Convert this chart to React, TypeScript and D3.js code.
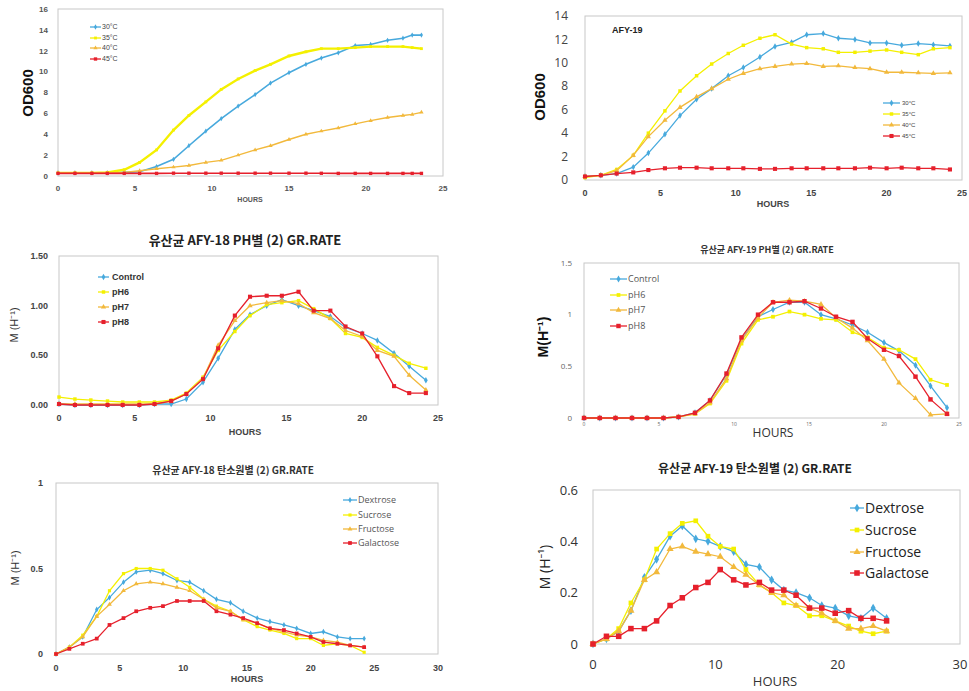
import * as d3 from "d3";

// ---- data ----
const hoursA = [0, 1.1, 2.2, 3.2, 4.3, 5.3, 6.4, 7.5, 8.5, 9.6, 10.6, 11.7, 12.8, 13.8, 15, 16.1, 17.1, 18.2, 19.3, 20.3, 21.4, 22.4, 23, 23.6];
const hoursB = [0, 1.05, 2.1, 3.2, 4.2, 5.3, 6.3, 7.4, 8.4, 9.5, 10.5, 11.6, 12.6, 13.7, 14.7, 15.8, 16.8, 17.9, 18.9, 20, 21, 22.1, 23.1, 24.2];
const hoursC = [0, 1.1, 2.1, 3.1, 4.2, 5.2, 6.3, 7.3, 8.4, 9.4, 10.4, 11.5, 12.5, 13.6, 14.6, 15.6, 16.6, 17.7, 18.7, 19.8, 20.9, 21.9, 22.9, 24];

const tempLabels = ["30°C", "35°C", "40°C", "45°C"];
const phLabels = ["Control", "pH6", "pH7", "pH8"];
const sugarLabels = ["Dextrose", "Sucrose", "Fructose", "Galactose"];

// AFY-18 OD600 by temperature
const od18_30 = [0.3, 0.3, 0.3, 0.3, 0.35, 0.4, 0.9, 1.6, 2.9, 4.3, 5.5, 6.7, 7.8, 8.9, 9.9, 10.7, 11.3, 11.8, 12.5, 12.6, 13.0, 13.2, 13.5, 13.5];
const od18_35 = [0.3, 0.3, 0.3, 0.35, 0.6, 1.3, 2.5, 4.4, 5.8, 7.1, 8.3, 9.3, 10.1, 10.7, 11.5, 11.9, 12.2, 12.2, 12.3, 12.4, 12.4, 12.4, 12.3, 12.2];
const od18_40 = [0.3, 0.3, 0.3, 0.3, 0.35, 0.5, 0.7, 0.85, 1.0, 1.3, 1.5, 2.0, 2.5, 2.9, 3.5, 4.0, 4.3, 4.6, 5.0, 5.3, 5.6, 5.8, 5.9, 6.1];
const od18_45 = [0.25, 0.25, 0.25, 0.25, 0.25, 0.25, 0.25, 0.27, 0.27, 0.27, 0.27, 0.27, 0.27, 0.27, 0.27, 0.27, 0.26, 0.25, 0.25, 0.25, 0.25, 0.25, 0.25, 0.25];

// AFY-19 OD600 by temperature
const od19_30 = [0.3, 0.4, 0.55, 1.1, 2.3, 3.9, 5.5, 6.9, 7.8, 8.9, 9.6, 10.5, 11.4, 11.75, 12.4, 12.5, 12.1, 12.0, 11.7, 11.7, 11.5, 11.65, 11.55, 11.45];
const od19_35 = [0.2, 0.4, 0.9, 2.1, 4.0, 5.9, 7.6, 8.9, 9.9, 10.8, 11.5, 12.1, 12.4, 11.6, 11.3, 11.2, 10.9, 10.9, 11.0, 11.1, 10.9, 10.7, 11.2, 11.3];
const od19_40 = [0.3, 0.4, 0.8, 2.1, 3.7, 5.1, 6.2, 7.1, 7.8, 8.6, 9.1, 9.5, 9.7, 9.9, 9.95, 9.7, 9.75, 9.6, 9.5, 9.2, 9.2, 9.15, 9.1, 9.15];
const od19_45 = [0.3, 0.4, 0.55, 0.65, 0.85, 1.0, 1.05, 1.05, 1.0, 1.0, 1.0, 0.95, 0.95, 1.0, 1.0, 1.0, 1.0, 1.0, 1.05, 1.0, 1.05, 1.0, 1.0, 0.9];

// AFY-18 growth rate by pH
const ph18_ctl = [0.01, 0, 0, 0, 0, 0, 0.01, 0.01, 0.06, 0.23, 0.47, 0.76, 0.91, 1.0, 1.06, 1.0, 0.95, 0.89, 0.78, 0.72, 0.65, 0.52, 0.39, 0.25];
const ph18_6 = [0.08, 0.06, 0.05, 0.04, 0.03, 0.03, 0.03, 0.05, 0.12, 0.28, 0.55, 0.74, 0.9, 1.01, 1.03, 1.05, 0.97, 0.87, 0.72, 0.68, 0.58, 0.5, 0.42, 0.37];
const ph18_7 = [0.01, 0.01, 0.01, 0.01, 0.01, 0.01, 0.01, 0.04, 0.11, 0.27, 0.6, 0.85, 1.0, 1.03, 1.05, 1.02, 0.93, 0.87, 0.75, 0.69, 0.55, 0.49, 0.3, 0.15];
const ph18_8 = [0.01, 0, 0, 0, 0, 0, 0.01, 0.04, 0.11, 0.26, 0.57, 0.9, 1.09, 1.1, 1.1, 1.14, 0.95, 0.95, 0.79, 0.72, 0.49, 0.19, 0.12, 0.12];

// AFY-19 growth rate by pH
const ph19_ctl = [0, 0, 0, 0, 0, 0, 0.01, 0.05, 0.17, 0.42, 0.76, 0.98, 1.05, 1.12, 1.12, 1.0, 0.96, 0.9, 0.83, 0.73, 0.65, 0.51, 0.31, 0.1];
const ph19_6 = [0, 0, 0, 0, 0, 0, 0.01, 0.04, 0.14, 0.36, 0.72, 0.95, 0.98, 1.03, 1.0, 0.96, 0.95, 0.83, 0.78, 0.68, 0.66, 0.57, 0.37, 0.32];
const ph19_7 = [0, 0, 0, 0, 0, 0, 0.01, 0.04, 0.15, 0.38, 0.75, 0.97, 1.12, 1.14, 1.13, 1.1, 0.97, 0.87, 0.75, 0.57, 0.34, 0.19, 0.03, 0.04];
const ph19_8 = [0, 0, 0, 0, 0, 0, 0.01, 0.05, 0.17, 0.43, 0.78, 1.0, 1.12, 1.12, 1.13, 1.06, 0.98, 0.93, 0.77, 0.66, 0.6, 0.4, 0.18, 0.04];

// AFY-18 growth rate by carbon source
const c18_dex = [0, 0.04, 0.1, 0.26, 0.33, 0.42, 0.48, 0.49, 0.47, 0.43, 0.42, 0.37, 0.32, 0.3, 0.25, 0.21, 0.19, 0.17, 0.15, 0.12, 0.13, 0.1, 0.09, 0.09];
const c18_suc = [0, 0.04, 0.11, 0.22, 0.37, 0.47, 0.5, 0.5, 0.49, 0.44, 0.39, 0.32, 0.28, 0.25, 0.2, 0.16, 0.14, 0.12, 0.09, 0.09, 0.05, 0.06, 0.05, 0.01];
const c18_fru = [0, 0.04, 0.1, 0.22, 0.29, 0.37, 0.41, 0.42, 0.41, 0.39, 0.37, 0.32, 0.27, 0.25, 0.2, 0.18, 0.15, 0.13, 0.11, 0.1, 0.08, 0.07, 0.05, 0.04];
const c18_gal = [0, 0.03, 0.06, 0.09, 0.17, 0.21, 0.25, 0.27, 0.28, 0.31, 0.31, 0.31, 0.25, 0.23, 0.21, 0.18, 0.15, 0.14, 0.12, 0.1, 0.07, 0.06, 0.05, 0.04];

// AFY-19 growth rate by carbon source
const c19_dex = [0, 0.02, 0.05, 0.13, 0.26, 0.33, 0.42, 0.46, 0.41, 0.4, 0.38, 0.36, 0.31, 0.3, 0.25, 0.21, 0.2, 0.18, 0.15, 0.14, 0.11, 0.1, 0.14, 0.1];
const c19_suc = [0, 0.02, 0.06, 0.16, 0.25, 0.37, 0.43, 0.47, 0.48, 0.42, 0.38, 0.37, 0.29, 0.23, 0.2, 0.16, 0.15, 0.11, 0.11, 0.09, 0.07, 0.05, 0.04, 0.05];
const c19_fru = [0, 0.02, 0.05, 0.13, 0.25, 0.28, 0.37, 0.38, 0.36, 0.35, 0.34, 0.3, 0.27, 0.23, 0.2, 0.19, 0.15, 0.14, 0.12, 0.09, 0.06, 0.06, 0.07, 0.05];
const c19_gal = [0, 0.03, 0.03, 0.06, 0.06, 0.09, 0.15, 0.18, 0.22, 0.24, 0.29, 0.25, 0.23, 0.24, 0.21, 0.21, 0.19, 0.14, 0.14, 0.12, 0.13, 0.1, 0.1, 0.09];

const BLUE = "#47a9dd";
const YELLOW = "#f4f000";
const ORANGE = "#f2b93c";
const RED = "#e6202c";
const colors = [BLUE, YELLOW, ORANGE, RED];
const markers = [d3.symbolDiamond, d3.symbolSquare, d3.symbolTriangle, d3.symbolSquare];

const KR = "'Noto Sans CJK KR', 'Noto Sans', sans-serif";
const SANS = "'Liberation Sans', Arial, sans-serif";
const CAL = "'Open Sans', 'Noto Sans', sans-serif";

interface FontSpec { size: number; weight?: string | number; color?: string; family?: string }

interface PanelProps {
  box: [number, number, number, number]; // left, top, right, bottom of the plot area
  hours: number[];
  series: number[][];
  labels: string[];
  xMax: number;
  xStep: number;
  yMax: number;
  yTicks: number[];
  yFmt: (v: number) => string;
  tickFont: FontSpec;
  xTickFont?: FontSpec;
  xTickY: number;
  yTickX: number;
  hoursPos: [number, number];
  hoursFont: FontSpec;
  yLabel: string;
  yLabelPos: [number, number];
  yLabelFont: FontSpec;
  title?: string;
  titlePos?: [number, number];
  titleFont?: FontSpec;
  legend: { x0: number; x1: number; tx: number; ys: number[]; font: FontSpec };
  markerSize?: number;
  lineWidths?: number[];
  inner?: { text: string; x: number; y: number; font: FontSpec };
}

function txt(f: FontSpec) {
  return {
    fontSize: f.size,
    fontWeight: f.weight ?? "normal",
    fill: f.color ?? "#333",
    fontFamily: f.family ?? SANS,
  } as const;
}

function Panel(p: PanelProps) {
  const [l, t, r, b] = p.box;
  const x = d3.scaleLinear().domain([0, p.xMax]).range([l, r]);
  const y = d3.scaleLinear().domain([0, p.yMax]).range([b, t]);
  const xTicks = d3.range(0, p.xMax + 0.001, p.xStep);
  const line = d3
    .line<[number, number]>()
    .x((d) => x(d[0]))
    .y((d) => y(d[1]));
  const ms = p.markerSize ?? 14;
  const xf = p.xTickFont ?? p.tickFont;

  return (
    <g>
      <rect x={l} y={t} width={r - l} height={b - t} fill="white" stroke="#c8c8c8" strokeWidth={1} />
      {p.yTicks.map((v) => (
        <text key={"y" + v} x={p.yTickX} y={y(v)} dy="0.35em" textAnchor="end" {...txt(p.tickFont)}>
          {p.yFmt(v)}
        </text>
      ))}
      {xTicks.map((v) => (
        <text key={"x" + v} x={x(v)} y={p.xTickY} textAnchor="middle" {...txt(xf)}>
          {v}
        </text>
      ))}
      <text x={p.hoursPos[0]} y={p.hoursPos[1]} textAnchor="middle" {...txt(p.hoursFont)}>
        HOURS
      </text>
      <text
        transform={`translate(${p.yLabelPos[0]},${p.yLabelPos[1]}) rotate(-90)`}
        textAnchor="middle"
        dy="0.35em"
        {...txt(p.yLabelFont)}
      >
        {p.yLabel}
      </text>
      {p.title && p.titlePos && p.titleFont && (
        <text x={p.titlePos[0]} y={p.titlePos[1]} textAnchor="middle" {...txt(p.titleFont)}>
          {p.title}
        </text>
      )}
      {p.inner && (
        <text x={p.inner.x} y={p.inner.y} {...txt(p.inner.font)}>
          {p.inner.text}
        </text>
      )}
      {p.series.map((vals, si) => {
        const pts: [number, number][] = vals.map((v, i) => [p.hours[i], v]);
        const sym = d3.symbol().type(markers[si]).size(si === 3 ? ms * 1.4 : ms)();
        const lw = p.lineWidths ? p.lineWidths[si] : 1.3;
        return (
          <g key={si}>
            <path d={line(pts) ?? ""} fill="none" stroke={colors[si]} strokeWidth={lw} />
            {pts.map((d, i) => (
              <path key={i} d={sym ?? ""} transform={`translate(${x(d[0])},${y(d[1])})`} fill={colors[si]} />
            ))}
          </g>
        );
      })}
      {p.labels.map((name, si) => {
        const ly = p.legend.ys[si];
        const sym = d3.symbol().type(markers[si]).size(si === 3 ? ms * 1.4 : ms)();
        return (
          <g key={"lg" + si}>
            <line x1={p.legend.x0} x2={p.legend.x1} y1={ly} y2={ly} stroke={colors[si]} strokeWidth={1.3} />
            <path d={sym ?? ""} transform={`translate(${(p.legend.x0 + p.legend.x1) / 2},${ly})`} fill={colors[si]} />
            <text x={p.legend.tx} y={ly} dy="0.35em" {...txt(p.legend.font)}>
              {name}
            </text>
          </g>
        );
      })}
    </g>
  );
}

const f2 = (v: number) => d3.format(".2f")(v);
const fg = (v: number) => String(v);

export default function App() {
  return (
    <svg
      width={969}
      height={691}
      style={{ position: "absolute", left: 0, top: 0, background: "white" }}
    >
      {/* AFY-18 OD600 */}
      <Panel
        box={[58, 9, 443, 176]}
        hours={hoursA}
        series={[od18_30, od18_35, od18_40, od18_45]}
        labels={tempLabels}
        xMax={25}
        xStep={5}
        yMax={16}
        yTicks={d3.range(0, 17, 2)}
        yFmt={fg}
        tickFont={{ size: 8, weight: "bold", color: "#555" }}
        xTickY={191}
        yTickX={48}
        hoursPos={[250, 202]}
        hoursFont={{ size: 7, weight: "bold", color: "#555" }}
        yLabel="OD600"
        yLabelPos={[28, 93]}
        yLabelFont={{ size: 15, weight: "bold", color: "#111" }}
        legend={{ x0: 90, x1: 101, tx: 102, ys: [27, 38, 48, 59], font: { size: 7, color: "#444" } }}
        markerSize={8}
        lineWidths={[1.6, 2.4, 1.4, 1.6]}
      />
      {/* AFY-19 OD600 */}
      <Panel
        box={[585, 16, 962, 180]}
        hours={hoursB}
        series={[od19_30, od19_35, od19_40, od19_45]}
        labels={tempLabels}
        xMax={25}
        xStep={5}
        yMax={14}
        yTicks={d3.range(0, 15, 2)}
        yFmt={fg}
        tickFont={{ size: 12, color: "#444", family: CAL }}
        xTickFont={{ size: 9, weight: "bold", color: "#444" }}
        xTickY={196}
        yTickX={568}
        hoursPos={[773, 207]}
        hoursFont={{ size: 9, weight: "bold", color: "#444" }}
        yLabel="OD600"
        yLabelPos={[540, 97]}
        yLabelFont={{ size: 15, weight: "bold", color: "#111" }}
        inner={{ text: "AFY-19", x: 612, y: 33, font: { size: 9, weight: "bold", color: "#222" } }}
        legend={{ x0: 883, x1: 900, tx: 902, ys: [103, 114, 125, 136], font: { size: 6, color: "#444" } }}
        markerSize={12}
      />
      {/* AFY-18 pH */}
      <Panel
        box={[59, 256, 438, 405]}
        hours={hoursB}
        series={[ph18_ctl, ph18_6, ph18_7, ph18_8]}
        labels={phLabels}
        xMax={25}
        xStep={5}
        yMax={1.5}
        yTicks={[0, 0.5, 1, 1.5]}
        yFmt={f2}
        tickFont={{ size: 9, weight: "bold", color: "#444" }}
        xTickY={421}
        yTickX={48}
        hoursPos={[245, 435]}
        hoursFont={{ size: 9, weight: "bold", color: "#444" }}
        yLabel="M (H⁻¹)"
        yLabelPos={[14, 325]}
        yLabelFont={{ size: 11, color: "#333" }}
        title="유산균 AFY-18 PH별 (2) GR.RATE"
        titlePos={[245, 245]}
        titleFont={{ size: 13, weight: "bold", color: "#222", family: KR }}
        legend={{ x0: 98, x1: 109, tx: 112, ys: [277, 292, 307, 322], font: { size: 9, weight: "bold", color: "#333" } }}
        markerSize={12}
      />
      {/* AFY-19 pH */}
      <Panel
        box={[584, 263, 959, 418]}
        hours={hoursB}
        series={[ph19_ctl, ph19_6, ph19_7, ph19_8]}
        labels={phLabels}
        xMax={25}
        xStep={5}
        yMax={1.5}
        yTicks={[0, 0.5, 1, 1.5]}
        yFmt={fg}
        tickFont={{ size: 8, color: "#666", family: CAL }}
        xTickFont={{ size: 5, color: "#666", family: CAL }}
        xTickY={426}
        yTickX={572}
        hoursPos={[773, 437]}
        hoursFont={{ size: 12, color: "#333", family: CAL }}
        yLabel="M(H⁻¹)"
        yLabelPos={[543, 337]}
        yLabelFont={{ size: 14, weight: "bold", color: "#111" }}
        title="유산균 AFY-19 PH별 (2) GR.RATE"
        titlePos={[767, 253]}
        titleFont={{ size: 9, weight: "bold", color: "#333", family: KR }}
        legend={{ x0: 610, x1: 627, tx: 628, ys: [279, 295, 310, 326], font: { size: 9, color: "#555", family: CAL } }}
        markerSize={14}
      />
      {/* AFY-18 carbon source */}
      <Panel
        box={[56, 483, 438, 654]}
        hours={hoursB}
        series={[c18_dex, c18_suc, c18_fru, c18_gal]}
        labels={sugarLabels}
        xMax={30}
        xStep={5}
        yMax={1}
        yTicks={[0, 0.5, 1]}
        yFmt={fg}
        tickFont={{ size: 9, weight: "bold", color: "#444" }}
        xTickY={671}
        yTickX={43}
        hoursPos={[247, 682]}
        hoursFont={{ size: 9, weight: "bold", color: "#444" }}
        yLabel="M (H⁻¹)"
        yLabelPos={[15, 568]}
        yLabelFont={{ size: 11, color: "#333" }}
        title="유산균 AFY-18 탄소원별 (2) GR.RATE"
        titlePos={[233, 474]}
        titleFont={{ size: 10, weight: "bold", color: "#333", family: KR }}
        legend={{ x0: 343, x1: 357, tx: 358, ys: [500, 515, 529, 543], font: { size: 9, color: "#555", family: CAL } }}
        markerSize={10}
      />
      {/* AFY-19 carbon source */}
      <Panel
        box={[593, 490, 960, 644]}
        hours={hoursC}
        series={[c19_dex, c19_suc, c19_fru, c19_gal]}
        labels={sugarLabels}
        xMax={30}
        xStep={10}
        yMax={0.6}
        yTicks={[0, 0.2, 0.4, 0.6]}
        yFmt={fg}
        tickFont={{ size: 13, color: "#333", family: CAL }}
        xTickY={669}
        yTickX={578}
        hoursPos={[775, 686]}
        hoursFont={{ size: 13, color: "#333", family: CAL }}
        yLabel="M (H⁻¹)"
        yLabelPos={[545, 567]}
        yLabelFont={{ size: 14, color: "#222", family: CAL }}
        title="유산균 AFY-19 탄소원별 (2) GR.RATE"
        titlePos={[755, 473]}
        titleFont={{ size: 12, weight: "bold", color: "#222", family: KR }}
        legend={{ x0: 850, x1: 864, tx: 865, ys: [508, 530, 552, 573], font: { size: 14, color: "#222", family: CAL } }}
        markerSize={22}
      />
    </svg>
  );
}
